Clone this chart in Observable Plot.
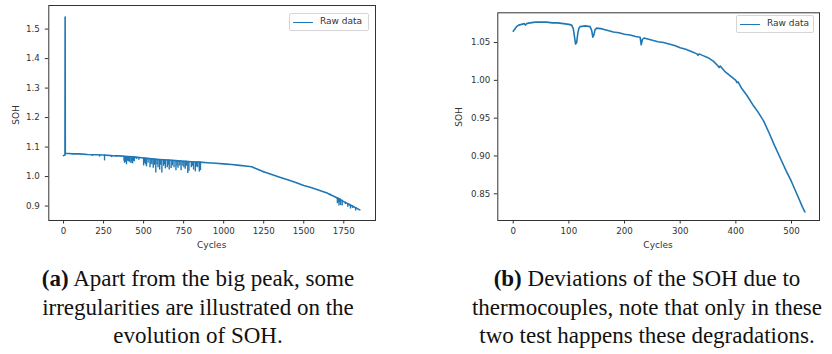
<!DOCTYPE html>
<html>
<head>
<meta charset="utf-8">
<script src="https://cdn.jsdelivr.net/npm/d3@7"></script>
<script src="https://cdn.jsdelivr.net/npm/@observablehq/plot@0.6"></script>
<style>
  html, body { margin: 0; padding: 0; background: #fff; }
  #root { position: relative; width: 832px; height: 354px; overflow: hidden; background: #fff; }
  .panel { position: absolute; top: 0; }
  .panel svg { overflow: visible; }
  .lbl { position: absolute; font-family: "DejaVu Sans", sans-serif; font-size: 9px; color: #333; white-space: nowrap; }
  .legend { position: absolute; border: 1px solid #d6d6d6; border-radius: 2px; background: #fff;
            font-family: "DejaVu Sans", sans-serif; font-size: 9px; color: #333; box-sizing: border-box; }
  .legend .sw { position: absolute; height: 1.5px; background: #1f77b4; }
  .legend .tx { position: absolute; white-space: nowrap; }
  .cap { position: absolute; font-family: "Liberation Serif", "DejaVu Serif", serif; font-size: 23px;
         line-height: 28.7px; color: #111; text-align: center; white-space: nowrap; }
</style>
</head>
<body>
<div id="root"></div>
<script>
// ---------- data: panel (a) ----------
const leftCycles = [0, 5, 9, 10, 11, 14, 30, 60, 100, 150, 200, 250, 300, 350, 400, 450, 500, 550, 600, 650, 700, 750, 800, 850, 900, 950, 1000, 1050, 1100, 1150, 1175, 1200, 1250, 1300, 1350, 1400, 1450, 1500, 1550, 1600, 1650, 1700, 1750, 1800, 1850];
const leftSoh = [1.071, 1.072, 1.073, 1.541, 1.078, 1.078, 1.078, 1.077, 1.077, 1.075, 1.074, 1.073, 1.071, 1.070, 1.068, 1.066, 1.063, 1.060, 1.058, 1.056, 1.054, 1.052, 1.050, 1.049, 1.047, 1.045, 1.043, 1.041, 1.038, 1.035, 1.033, 1.027, 1.016, 1.007, 0.998, 0.989, 0.980, 0.970, 0.962, 0.953, 0.943, 0.930, 0.915, 0.901, 0.887];
const leftDipCycles = [180, 225, 256, 300, 330, 378, 381, 387, 393, 399, 405, 413, 421, 426, 431, 437, 442, 455, 470, 500, 506, 512, 518, 528, 540, 546, 552, 560, 568, 576, 584, 590, 600, 607, 614, 625, 630, 636, 648, 654, 660, 672, 680, 690, 702, 709, 715, 726, 734, 745, 752, 760, 768, 776, 783, 798, 805, 812, 823, 830, 838, 848, 855, 1250, 1300, 1655, 1667, 1710, 1715, 1720, 1725, 1730, 1740, 1760, 1775, 1785, 1792, 1805, 1824];
const leftDipLow = [1.068, 1.066, 1.053, 1.064, 1.065, 1.052, 1.045, 1.048, 1.040, 1.052, 1.050, 1.048, 1.044, 1.050, 1.043, 1.052, 1.050, 1.058, 1.055, 1.036, 1.045, 1.040, 1.033, 1.045, 1.030, 1.042, 1.040, 1.028, 1.038, 1.012, 1.040, 1.030, 1.022, 1.038, 1.012, 1.035, 1.040, 1.026, 1.030, 1.038, 1.022, 1.027, 1.036, 1.030, 1.020, 1.035, 1.028, 1.036, 1.020, 1.035, 1.030, 1.025, 1.035, 1.010, 1.018, 1.030, 1.035, 1.022, 1.016, 1.032, 1.030, 1.015, 1.020, 1.012, 1.004, 0.938, 0.934, 0.908, 0.912, 0.900, 0.910, 0.902, 0.900, 0.905, 0.896, 0.900, 0.890, 0.892, 0.883];
const leftDipHigh = [1.074, 1.073, 1.073, 1.071, 1.070, 1.068, 1.068, 1.068, 1.068, 1.067, 1.067, 1.067, 1.067, 1.066, 1.066, 1.066, 1.066, 1.065, 1.065, 1.063, 1.063, 1.062, 1.062, 1.062, 1.061, 1.061, 1.060, 1.060, 1.059, 1.059, 1.058, 1.058, 1.058, 1.058, 1.057, 1.057, 1.057, 1.056, 1.056, 1.056, 1.055, 1.055, 1.055, 1.054, 1.054, 1.054, 1.053, 1.053, 1.053, 1.052, 1.052, 1.052, 1.052, 1.051, 1.051, 1.050, 1.050, 1.050, 1.050, 1.049, 1.049, 1.049, 1.049, 1.016, 1.007, 0.942, 0.940, 0.928, 0.927, 0.926, 0.925, 0.923, 0.920, 0.913, 0.909, 0.906, 0.903, 0.900, 0.895];
const leftXTicks = [0, 250, 500, 750, 1000, 1250, 1500, 1750];
const leftYTicks = [0.9, 1.0, 1.1, 1.2, 1.3, 1.4, 1.5];

// ---------- data: panel (b) ----------
const rightCycles = [0, 3, 6, 10, 15, 20, 22, 24, 30, 40, 50, 60, 70, 80, 90, 100, 105, 108, 110, 112, 114, 116, 118, 120, 130, 138, 141, 143, 145, 147, 150, 160, 170, 180, 190, 200, 210, 220, 228, 230, 232, 235, 240, 250, 260, 270, 280, 290, 300, 310, 320, 330, 332, 334, 340, 350, 360, 368, 370, 372, 380, 390, 400, 402, 404, 410, 420, 432, 440, 450, 460, 470, 480, 490, 500, 510, 520, 524];
const rightSoh = [1.065, 1.068, 1.071, 1.073, 1.074, 1.075, 1.073, 1.075, 1.076, 1.077, 1.077, 1.077, 1.076, 1.076, 1.075, 1.074, 1.073, 1.068, 1.058, 1.048, 1.050, 1.062, 1.069, 1.071, 1.072, 1.071, 1.066, 1.057, 1.060, 1.067, 1.069, 1.068, 1.066, 1.064, 1.063, 1.061, 1.060, 1.058, 1.057, 1.047, 1.054, 1.056, 1.055, 1.053, 1.051, 1.050, 1.048, 1.046, 1.043, 1.041, 1.038, 1.035, 1.033, 1.035, 1.033, 1.030, 1.025, 1.019, 1.017, 1.019, 1.012, 1.006, 1.000, 0.997, 0.998, 0.990, 0.980, 0.966, 0.958, 0.946, 0.930, 0.913, 0.897, 0.881, 0.866, 0.849, 0.832, 0.826];
const rightXTicks = [0, 100, 200, 300, 400, 500];
const rightYTicks = [0.85, 0.90, 0.95, 1.00, 1.05];

const seriesName = "Raw data";
const xLabel = "Cycles";
const yLabel = "SOH";
const captionA = ["Apart from the big peak, some", "irregularities are illustrated on the", "evolution of SOH."];
const captionB = ["Deviations of the SOH due to", "thermocouples, note that only in these", "two test happens these degradations."];

const blue = "#1f77b4";
const root = document.getElementById("root");

function panel(cfg) {
  const base = cfg.cycles.map((c, i) => ({c, s: cfg.soh[i]}));
  const dips = (cfg.dipC || []).map((c, i) => ({c, lo: cfg.dipLo[i], hi: cfg.dipHi[i]}));
  const svg = Plot.plot({
    width: cfg.width, height: 240,
    marginLeft: cfg.ml, marginRight: cfg.mr, marginTop: cfg.mt, marginBottom: 20,
    style: {fontFamily: "DejaVu Sans, sans-serif", fontSize: "8.7px", color: "#333", background: "transparent", overflow: "visible"},
    x: {domain: cfg.xd},
    y: {domain: cfg.yd},
    marks: [
      Plot.ruleX(dips, {x: "c", y1: "lo", y2: "hi", stroke: blue, strokeWidth: 1.4}),
      Plot.line(base, {x: "c", y: "s", stroke: blue, strokeWidth: 1.6}),
      Plot.frame({stroke: "#333", strokeWidth: 1}),
      Plot.axisX(cfg.xt, {tickSize: 3.5, tickPadding: 4, tickFormat: d => String(d), label: null, stroke: "#333"}),
      Plot.axisY(cfg.yt, {tickSize: 3.5, tickPadding: cfg.yp, tickFormat: d3.format(cfg.yf), label: null, stroke: "#333"})
    ]
  });
  const wrap = document.createElement("div");
  wrap.className = "panel";
  wrap.style.left = cfg.left + "px";
  wrap.appendChild(svg);
  root.appendChild(wrap);
}

panel({left: 0, width: 416, ml: 48.3, mr: 41, mt: 5, xd: [-92, 1948], yd: [0.851, 1.580],
  cycles: leftCycles, soh: leftSoh, dipC: leftDipCycles, dipLo: leftDipLow, dipHi: leftDipHigh,
  xt: leftXTicks, yt: leftYTicks, yf: ".1f", yp: 5.5});
panel({left: 416, width: 416, ml: 81.3, mr: 13, mt: 12.3, xd: [-27.7, 550.3], yd: [0.8147, 1.0893],
  cycles: rightCycles, soh: rightSoh, xt: rightXTicks, yt: rightYTicks, yf: ".2f", yp: 4});

function addText(cls, txt, x, y, rotate) {
  const d = document.createElement("div");
  d.className = cls;
  d.textContent = txt;
  d.style.left = x + "px"; d.style.top = y + "px";
  d.style.transform = "translate(-50%,-50%)" + (rotate ? " rotate(-90deg)" : "");
  root.appendChild(d);
}
addText("lbl", xLabel, 211.7, 244.5);
addText("lbl", xLabel, 658, 244.5);
addText("lbl", yLabel, 16, 115, true);
addText("lbl", yLabel, 459.3, 117, true);

function legend(x0, y0, w, h) {
  const lg = document.createElement("div");
  lg.className = "legend";
  lg.style.left = x0 + "px"; lg.style.top = y0 + "px";
  lg.style.width = w + "px"; lg.style.height = h + "px";
  const sw = document.createElement("div");
  sw.className = "sw";
  sw.style.left = "3px"; sw.style.width = "20px"; sw.style.top = (h / 2 - 1.5) + "px";
  const tx = document.createElement("div");
  tx.className = "tx";
  tx.textContent = seriesName;
  tx.style.left = "30px"; tx.style.top = (h / 2 - 7) + "px";
  lg.appendChild(sw); lg.appendChild(tx);
  root.appendChild(lg);
}
legend(289, 13, 80, 18);
legend(736, 15, 78, 18);

function caption(tag, lines, cx) {
  const d = document.createElement("div");
  d.className = "cap";
  d.style.left = cx + "px"; d.style.top = "265px";
  d.style.transform = "translateX(-50%)";
  const b = document.createElement("b");
  b.textContent = tag;
  d.appendChild(b);
  lines.forEach((ln, i) => {
    if (i > 0) d.appendChild(document.createElement("br"));
    d.appendChild(document.createTextNode((i === 0 ? " " : "") + ln));
  });
  root.appendChild(d);
}
caption("(a)", captionA, 198);
caption("(b)", captionB, 647);
</script>
</body>
</html>
